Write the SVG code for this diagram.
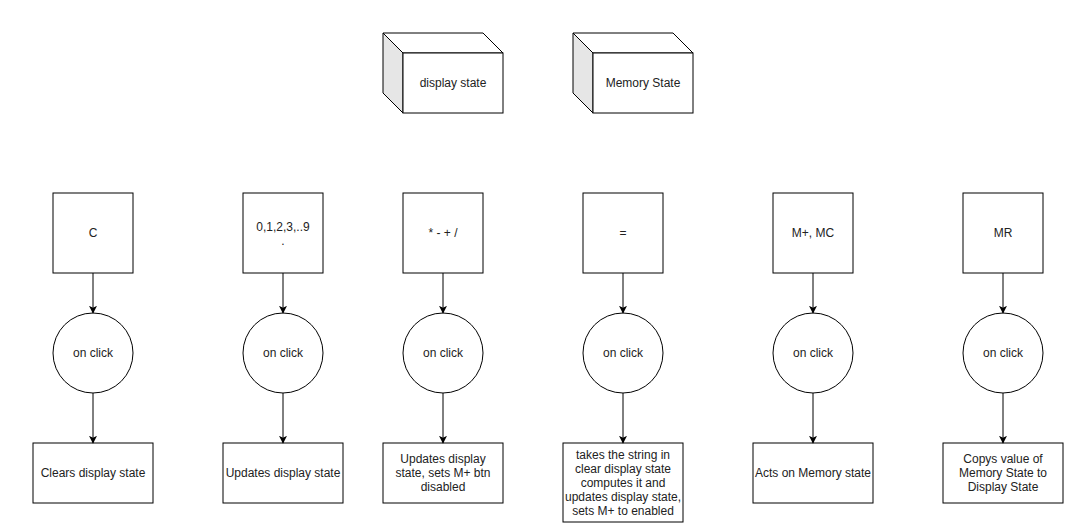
<svg xmlns="http://www.w3.org/2000/svg" width="1071" height="532" viewBox="0 0 1071 532">
<defs>
<style>
.box{fill:#fff;stroke:#000;stroke-width:1}
.side{fill:#e6e6e6;stroke:#000;stroke-width:1;stroke-linejoin:round}
.t{font-family:"Liberation Sans",Arial,sans-serif;font-size:12px;fill:#222;text-anchor:middle}
.edge{fill:none;stroke:#000;stroke-width:1}
</style>
<marker id="arr" viewBox="0 0 10 10" refX="9" refY="5" markerWidth="8" markerHeight="8" markerUnits="userSpaceOnUse" orient="auto">
<path d="M0,0 L10,5 L0,10 L2.5,5 Z" fill="#000"/>
</marker>
</defs>
<rect width="1071" height="532" fill="#fff"/>

<g id="cube-display">
<polygon class="side" points="383,33 403,53 403,113 383,93"/>
<polygon class="box" points="383,33 483,33 503,53 403,53"/>
<rect class="box" x="403" y="53" width="100" height="60"/>
<text class="t" x="453" y="87">display state</text>
</g>
<g id="cube-memory">
<polygon class="side" points="573,33 593,53 593,113 573,93"/>
<polygon class="box" points="573,33 673,33 693,53 593,53"/>
<rect class="box" x="593" y="53" width="100" height="60"/>
<text class="t" x="643" y="87">Memory State</text>
</g>

<g id="btn-c"><rect class="box" x="53" y="193" width="80" height="80"/><text class="t" x="93" y="237">C</text></g>
<g id="btn-digits"><rect class="box" x="243" y="193" width="80" height="80"/><text class="t" x="283" y="231">0,1,2,3,..9</text><text class="t" x="283" y="245">.</text></g>
<g id="btn-ops"><rect class="box" x="403" y="193" width="80" height="80"/><text class="t" x="443" y="237">* - + /</text></g>
<g id="btn-eq"><rect class="box" x="583" y="193" width="80" height="80"/><text class="t" x="623" y="237">=</text></g>
<g id="btn-mem"><rect class="box" x="773" y="193" width="80" height="80"/><text class="t" x="813" y="237">M+, MC</text></g>
<g id="btn-mr"><rect class="box" x="963" y="193" width="80" height="80"/><text class="t" x="1003" y="237">MR</text></g>

<g id="click-c"><circle class="box" cx="93" cy="353" r="40"/><text class="t" x="93" y="357">on click</text></g>
<g id="click-digits"><circle class="box" cx="283" cy="353" r="40"/><text class="t" x="283" y="357">on click</text></g>
<g id="click-ops"><circle class="box" cx="443" cy="353" r="40"/><text class="t" x="443" y="357">on click</text></g>
<g id="click-eq"><circle class="box" cx="623" cy="353" r="40"/><text class="t" x="623" y="357">on click</text></g>
<g id="click-mem"><circle class="box" cx="813" cy="353" r="40"/><text class="t" x="813" y="357">on click</text></g>
<g id="click-mr"><circle class="box" cx="1003" cy="353" r="40"/><text class="t" x="1003" y="357">on click</text></g>

<g id="act-c"><rect class="box" x="33" y="443" width="120" height="60"/><text class="t" x="93" y="477">Clears display state</text></g>
<g id="act-digits"><rect class="box" x="223" y="443" width="120" height="60"/><text class="t" x="283" y="477">Updates display state</text></g>
<g id="act-ops"><rect class="box" x="383" y="443" width="120" height="60"/><text class="t" x="443" y="463">Updates display</text><text class="t" x="443" y="477">state, sets M+ btn</text><text class="t" x="443" y="491">disabled</text></g>
<g id="act-eq"><rect class="box" x="563" y="443" width="120" height="79"/><text class="t" x="623" y="459">takes the string in</text><text class="t" x="623" y="473">clear display state</text><text class="t" x="623" y="487">computes it and</text><text class="t" x="623" y="501">updates display state,</text><text class="t" x="623" y="515">sets M+ to enabled</text></g>
<g id="act-mem"><rect class="box" x="753" y="443" width="120" height="60"/><text class="t" x="813" y="477">Acts on Memory state</text></g>
<g id="act-mr"><rect class="box" x="943" y="443" width="120" height="60"/><text class="t" x="1003" y="463">Copys value of</text><text class="t" x="1003" y="477">Memory State to</text><text class="t" x="1003" y="491">Display State</text></g>

<g id="connectors">
<path class="edge" marker-end="url(#arr)" d="M93,273 V313"/>
<path class="edge" marker-end="url(#arr)" d="M93,393 V443"/>
<path class="edge" marker-end="url(#arr)" d="M283,273 V313"/>
<path class="edge" marker-end="url(#arr)" d="M283,393 V443"/>
<path class="edge" marker-end="url(#arr)" d="M443,273 V313"/>
<path class="edge" marker-end="url(#arr)" d="M443,393 V443"/>
<path class="edge" marker-end="url(#arr)" d="M623,273 V313"/>
<path class="edge" marker-end="url(#arr)" d="M623,393 V443"/>
<path class="edge" marker-end="url(#arr)" d="M813,273 V313"/>
<path class="edge" marker-end="url(#arr)" d="M813,393 V443"/>
<path class="edge" marker-end="url(#arr)" d="M1003,273 V313"/>
<path class="edge" marker-end="url(#arr)" d="M1003,393 V443"/>
</g>
</svg>
